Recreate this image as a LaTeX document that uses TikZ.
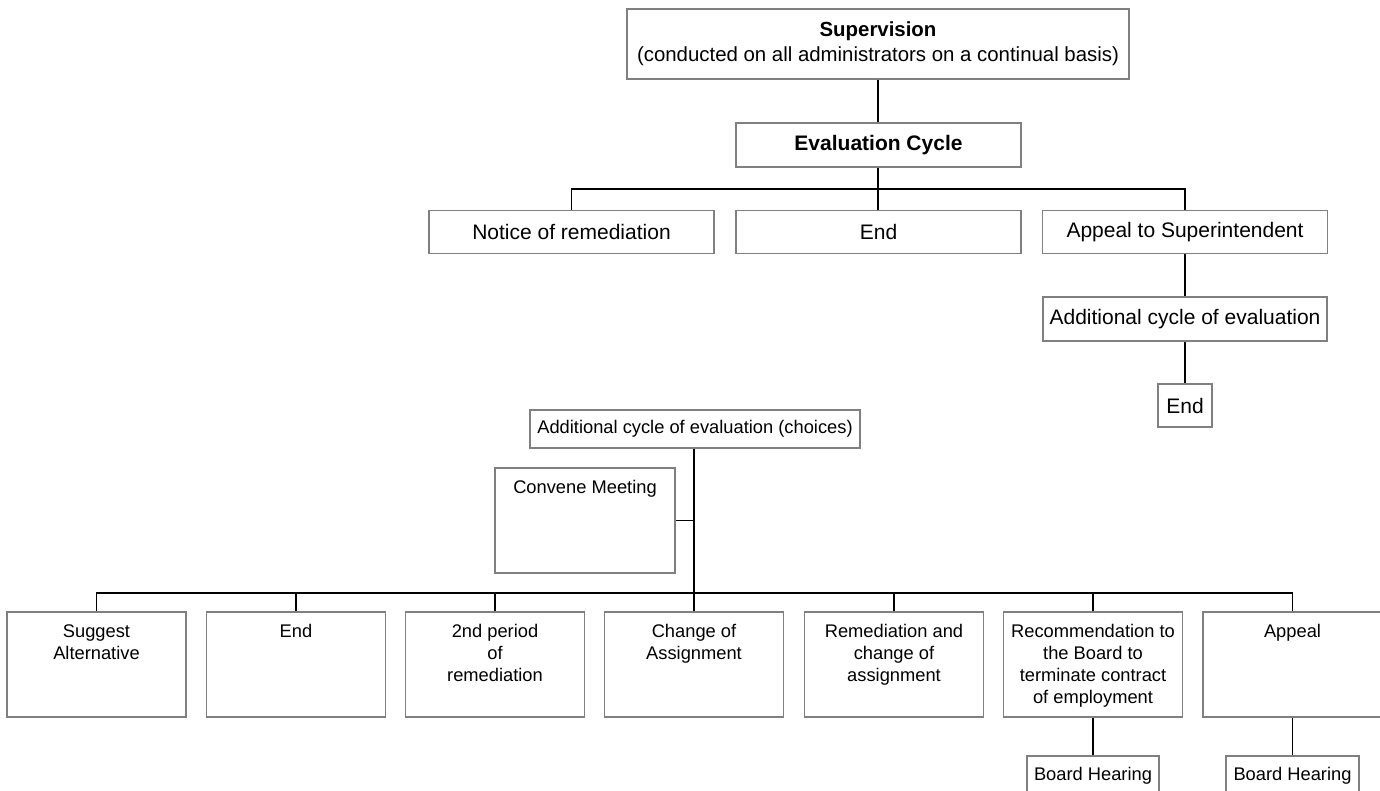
\documentclass[tikz,border=0pt]{standalone}
\usepackage{fontspec}
\setmainfont{Liberation Sans}
\definecolor{boxgray}{RGB}{128,128,128}
\newcommand\bxtext[1]{\parbox[t]{175pt}{\centering #1}}
\begin{document}
\begin{tikzpicture}[x=1pt,y=-1pt,
  boxg/.style={draw=boxgray, line width=1.1pt, inner sep=0pt, fill=white},
  topf/.style={font=\fontsize{21}{25}\selectfont},
  botf/.style={font=\fontsize{18.3}{22}\selectfont},
  rowbox/.style={boxg, topf, minimum width=285pt, minimum height=43pt},
  bigbox/.style={boxg, minimum width=179pt, minimum height=105pt},
  btxt/.style={anchor=base, inner sep=0pt, botf},
  conn/.style={draw=black, line width=1.3pt}]
\fill[white] (0,0) rectangle (1380,791);
\useasboundingbox (0,0) rectangle (1380,791);

% upper part
\node[boxg, font=\fontsize{20.4}{25}\selectfont, minimum width=502pt, minimum height=70pt, align=center] (sup) at (878,44)
  {\textbf{Supervision}\\(conducted on all administrators on a continual basis)};
\node[boxg, topf, minimum width=285pt, minimum height=44pt] (eval) at (878.5,145) {\textbf{Evaluation Cycle}};
\node[rowbox] (notice) at (571.5,232) {Notice of remediation};
\node[rowbox] (end1) at (878.5,232) {End};
\node[rowbox] (appS) at (1185,232) {Appeal to Superintendent};
\node[boxg, topf, minimum width=284pt, minimum height=44pt] (addl) at (1185,319) {Additional cycle of evaluation};
\node[boxg, topf, minimum width=54pt, minimum height=43pt] (end2) at (1185,405.5) {End};

\coordinate (tj) at (878,189);
\draw[conn] (sup.south -| tj) -- (eval.north -| tj);
\draw[conn] (eval.south -| tj) -- (end1.north -| tj);
\draw[conn] (notice.north) |- (tj) -| (appS.north);
\draw[conn] (appS.south) -- (addl.north);
\draw[conn] (addl.south) -- (end2.north);

% lower part
\node[boxg, botf, minimum width=330pt, minimum height=38pt] (choices) at (695,429) {Additional cycle of evaluation (choices)};
\node[boxg, minimum width=180pt, minimum height=105pt] (convene) at (585,520.5) {};
\node[btxt] (convenet) at (585,493.5) {Convene Meeting};

\node[bigbox] (b1) at (96.5,664.5) {};
\node[bigbox] (b2) at (296,664.5) {};
\node[bigbox] (b3) at (495,664.5) {};
\node[bigbox] (b4) at (694,664.5) {};
\node[bigbox] (b5) at (894,664.5) {};
\node[bigbox] (b6) at (1093,664.5) {};
\node[bigbox] (b7) at (1292.5,664.5) {};
\node[btxt] (t1) at (96.5,637) {\bxtext{Suggest\\Alternative}};
\node[btxt] (t2) at (296,637) {\bxtext{End}};
\node[btxt] (t3) at (495,637) {\bxtext{2nd period\\of\\remediation}};
\node[btxt] (t4) at (694,637) {\bxtext{Change of\\Assignment}};
\node[btxt] (t5) at (894,637) {\bxtext{Remediation and\\change of\\assignment}};
\node[btxt] (t6) at (1093,637) {\bxtext{Recommendation to\\the Board to\\terminate contract\\of employment}};
\node[btxt] (t7) at (1292.5,637) {\bxtext{Appeal}};

\node[boxg, botf, minimum width=132pt, minimum height=40pt] (bh1) at (1093,776) {Board Hearing};
\node[boxg, botf, minimum width=133pt, minimum height=40pt] (bh2) at (1292.5,776) {Board Hearing};

\coordinate (bj) at (694,593);
\draw[conn] (choices.south -| bj) -- (bj);
\draw[conn] (convene.east) -- (convene.east -| bj);
\draw[conn] (b1.north) |- (bj) -| (b7.north);
\foreach \n in {b2,b3,b4,b5,b6}
  \draw[conn] (\n.north) -- (\n.north |- bj);
\draw[conn] (b6.south) -- (bh1.north);
\draw[conn] (b7.south) -- (bh2.north);
\end{tikzpicture}
\end{document}
